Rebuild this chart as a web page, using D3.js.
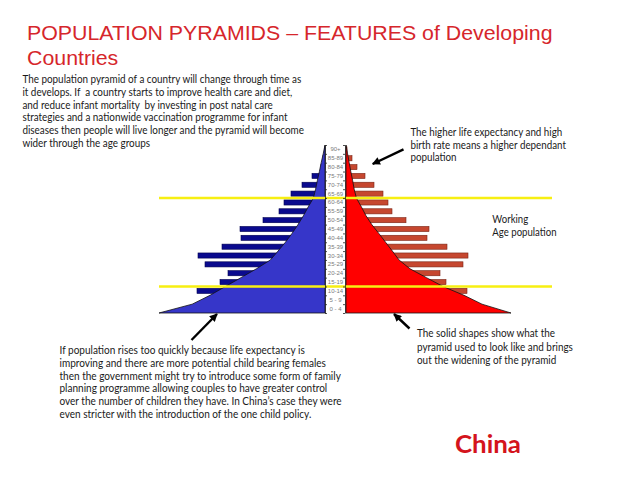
<!DOCTYPE html>
<html lang="en">
<head>
    <meta charset="UTF-8">
    <title>Population pyramids - China</title>
    <style>
        body {
            margin: 0;
            padding: 0;
            background: #fff;
        }
        svg {
            display: block;
            font-family: Lato, "Open Sans", sans-serif;
        }
        .title {
            font-family: "Liberation Sans", Arial, sans-serif;
            font-size: 21px;
            fill: #d6262b;
        }
        .note {
            font-size: 11.6px;
            fill: #1a1a1a;
        }
        .china {
            font-size: 24px;
            font-weight: bold;
            fill: #d4141c;
        }
        .age-label {
            font-family: "Liberation Sans", Arial, sans-serif;
            font-size: 6px;
            fill: #7a7a7a;
        }
        .center-axis path, .center-axis line {
            stroke: #222;
            stroke-width: 0.8;
        }
    </style>
</head>
<body>
    <div id="chart"></div>

    <script src="https://cdn.jsdelivr.net/npm/d3@7"></script>
    <script>
        // age groups, youngest first
        const ageGroups = ["0 - 4", "5 - 9", "10-14", "15-19", "20-24", "25-29", "30-34", "35-39",
            "40-44", "45-49", "50-54", "55-59", "60-64", "65-69", "70-74", "75-79", "80-84", "85-89", "90+"];

        // current population (millions) - bars
        const maleNow = [40, 50, 64, 52.5, 48.5, 60, 63.5, 51.5, 42, 42.5, 31, 23, 20.5, 17, 11.5, 6.5, 2, 1, 0.3];
        const femaleNow = [36, 45, 60.5, 50, 47, 58.5, 61, 50.5, 40.5, 41.5, 30, 23, 21, 18.5, 14, 9.5, 5.5, 3, 0.5];

        // old pyramid outline, read at the age group boundaries
        const ageEdges = [0, 5, 10, 15, 20, 25, 30, 35, 40, 45, 50, 55, 60, 65, 70, 75, 80, 85, 90, 95];
        const maleOld = [83, 66.4, 57.5, 49.8, 42, 34.3, 27.3, 23.5, 19.8, 16.5, 13.5, 10.8, 8.4, 5.8, 4.7, 3.8, 2.8, 1.9, 0.9, 0];
        const femaleOld = [82.5, 68, 59, 48.5, 40.2, 32, 26.5, 23.2, 19.8, 16.4, 12.9, 10, 7.7, 5.2, 4.1, 3.3, 2.4, 1.6, 0.8, 0];

        // working age band (ages)
        const workingAges = [15, 65];

        const titleLines = ["POPULATION PYRAMIDS \u2013 FEATURES of Developing", "Countries"];
        const introLines = [
            "The population pyramid of a country will change through time as",
            "it develops. If  a country starts to improve health care and diet,",
            "and reduce infant mortality  by investing in post natal care",
            "strategies and a nationwide vaccination programme for infant",
            "diseases then people will live longer and the pyramid will become",
            "wider through the age groups"
        ];
        const dependantLines = ["The higher life expectancy and high", "birth rate means a higher dependant", "population"];
        const workingLines = ["Working", "Age population"];
        const policyLines = [
            "If population rises too quickly because life expectancy is",
            "improving and there are more potential child bearing females",
            "then the government might try to introduce some form of family",
            "planning programme allowing couples to have greater control",
            "over the number of children they have. In China\u2019s case they were",
            "even stricter with the introduction of the one child policy."
        ];
        const solidLines = ["The solid shapes show what the", "pyramid used to look like and brings", "out the widening of the pyramid"];

        const width = 638, height = 479;

        const svg = d3.select("#chart").append("svg")
            .attr("width", width)
            .attr("height", height);

        svg.append("defs").append("marker")
            .attr("id", "head")
            .attr("markerUnits", "userSpaceOnUse")
            .attr("viewBox", "0 0 10 10")
            .attr("refX", 9).attr("refY", 5)
            .attr("markerWidth", 9).attr("markerHeight", 8)
            .attr("orient", "auto")
          .append("path")
            .attr("d", "M0,0L10,5L0,10z")
            .attr("fill", "#000");

        // scales
        const yAge = d3.scaleLinear().domain([0, 95]).range([313, 145]);
        const yBand = d3.scaleBand().domain(ageGroups).range([313, 145])
            .paddingInner(0.42).paddingOuter(0.21);
        const xL = d3.scaleLinear().domain([0, 85]).range([325, 155]);
        const xR = d3.scaleLinear().domain([0, 85]).range([346, 516]);

        // bars
        svg.append("g").selectAll("rect")
            .data(ageGroups)
            .join("rect")
            .attr("x", (d, i) => xL(maleNow[i]))
            .attr("y", d => yBand(d))
            .attr("width", (d, i) => xL(0) - xL(maleNow[i]))
            .attr("height", yBand.bandwidth())
            .attr("fill", "#0a0a8e")
            .attr("stroke", "#000050")
            .attr("stroke-width", 0.6);

        svg.append("g").selectAll("rect")
            .data(ageGroups)
            .join("rect")
            .attr("x", xR(0))
            .attr("y", d => yBand(d))
            .attr("width", (d, i) => xR(femaleNow[i]) - xR(0))
            .attr("height", yBand.bandwidth())
            .attr("fill", "#c6472f")
            .attr("stroke", "#7a2414")
            .attr("stroke-width", 0.6);

        // old outlines
        const leftArea = d3.area()
            .y((d, i) => yAge(ageEdges[i]))
            .x0(xL(0))
            .x1(d => xL(d));
        const rightArea = d3.area()
            .y((d, i) => yAge(ageEdges[i]))
            .x0(xR(0))
            .x1(d => xR(d));

        svg.append("path")
            .datum(maleOld)
            .attr("d", leftArea)
            .attr("fill", "#3636c9")
            .attr("stroke", "#111")
            .attr("stroke-width", 0.8);

        svg.append("path")
            .datum(femaleOld)
            .attr("d", rightArea)
            .attr("fill", "#ff0000")
            .attr("stroke", "#111")
            .attr("stroke-width", 0.8);

        // working age lines
        svg.append("g").selectAll("line")
            .data(workingAges)
            .join("line")
            .attr("x1", 159).attr("x2", 552)
            .attr("y1", d => yAge(d)).attr("y2", d => yAge(d))
            .attr("stroke", "#f7ef12")
            .attr("stroke-width", 2.6);

        // center age axis
        svg.append("g")
            .attr("class", "center-axis")
            .attr("transform", `translate(${xL(0)},0)`)
            .call(d3.axisRight(yAge).tickValues(ageEdges).tickSize(2).tickSizeOuter(0).tickFormat(""));
        svg.append("g")
            .attr("class", "center-axis")
            .attr("transform", `translate(${xR(0) - 1},0)`)
            .call(d3.axisLeft(yAge).tickValues(ageEdges).tickSize(2).tickSizeOuter(0).tickFormat(""));

        svg.append("g").selectAll("text")
            .data(ageGroups)
            .join("text")
            .attr("class", "age-label")
            .attr("x", (xL(0) + xR(0)) / 2)
            .attr("y", d => yBand(d) + yBand.bandwidth() / 2 + 2)
            .attr("text-anchor", "middle")
            .text(d => d);

        // text blocks, squeezed to the width they have on the slide
        function textBlock(lines, x, y0, dy, cls, targetWidth) {
            const g = svg.append("g");
            const t = g.selectAll("text")
                .data(lines)
                .join("text")
                .attr("class", cls)
                .attr("x", 0)
                .attr("y", (d, i) => y0 + i * dy)
                .attr("xml:space", "preserve")
                .text(d => d);
            const w = d3.max(t.nodes(), n => n.getComputedTextLength());
            const k = targetWidth / w;
            g.attr("transform", `translate(${x},0) scale(${k},1)`);
        }

        textBlock(titleLines, 27, 40, 25, "title", 526);
        textBlock(introLines, 22.4, 83, 12.8, "note", 282);
        textBlock(dependantLines, 410.4, 136, 12.6, "note", 155.6);
        textBlock(workingLines, 492.3, 223, 13, "note", 64.3);
        textBlock(policyLines, 59.5, 354, 12.8, "note", 282.5);
        textBlock(solidLines, 417, 337.2, 13.4, "note", 156);
        textBlock(["China"], 455, 453, 0, "china", 66);

        // arrows
        const arrows = [
            { from: [403.5, 149.3], to: [372.7, 164] },
            { from: [191.5, 340], to: [217, 314] },
            { from: [409.5, 328.5], to: [394, 314] }
        ];
        svg.append("g").selectAll("line")
            .data(arrows)
            .join("line")
            .attr("x1", d => d.from[0]).attr("y1", d => d.from[1])
            .attr("x2", d => d.to[0]).attr("y2", d => d.to[1])
            .attr("stroke", "#000")
            .attr("stroke-width", 2.4)
            .attr("marker-end", "url(#head)");
    </script>
</body>
</html>
